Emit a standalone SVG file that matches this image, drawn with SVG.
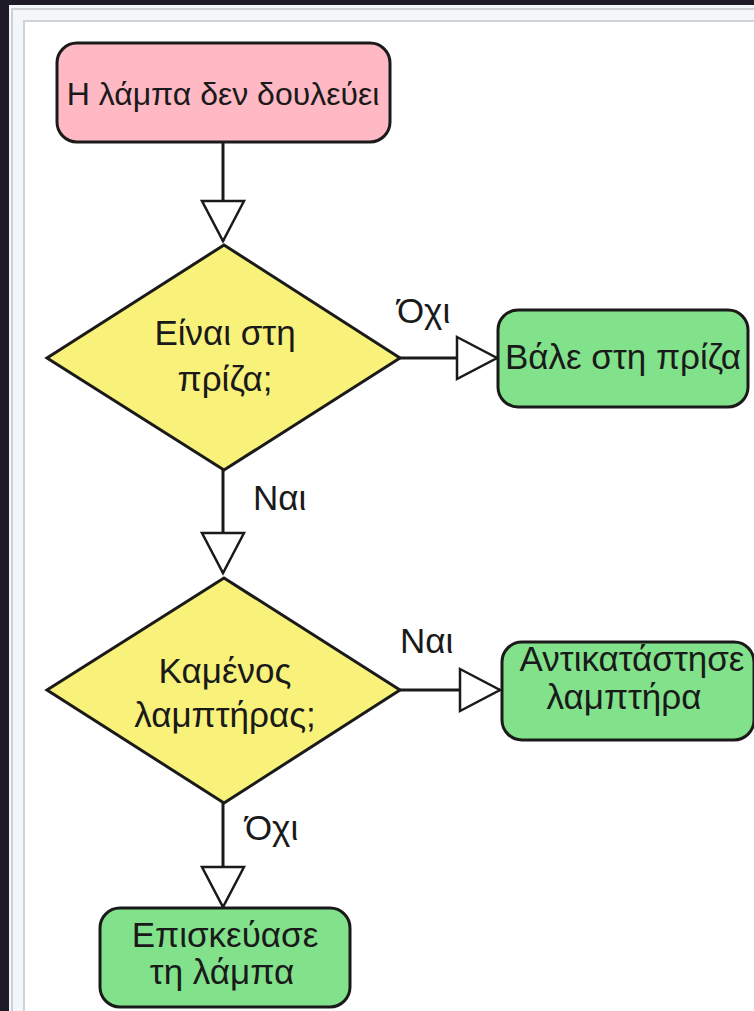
<svg xmlns="http://www.w3.org/2000/svg" width="754" height="1011" viewBox="0 0 754 1011">
  <defs>
    <style>
      .box { stroke: #1a1a1a; stroke-width: 3; }
      .start { fill: #ffb9c4; }
      .end { fill: #82e28b; }
      .dec { fill: #f9f27a; stroke: #1a1a1a; stroke-width: 3; stroke-linejoin: miter; }
      .lbl { font-family: "Liberation Sans", Arial, sans-serif; font-size: 35px; fill: #1a1a1a; }
      .c { text-anchor: middle; }
      .edge { fill: none; stroke: #1a1a1a; stroke-width: 3; marker-end: url(#ah); }
    </style>
    <marker id="ah" viewBox="-3 -3 46 48" refX="40" refY="21" markerWidth="46" markerHeight="48" markerUnits="userSpaceOnUse" orient="auto">
      <path d="M0,0 L40,21 L0,42 Z" fill="#ffffff" stroke="#1a1a1a" stroke-width="2.5"/>
    </marker>
  </defs>

  <rect x="0" y="0" width="754" height="1011" fill="#1e1a28"/>
  <rect x="9" y="5" width="760" height="1020" fill="#f4f7fa"/>
  <rect x="12" y="9" width="760" height="1020" fill="none" stroke="#cfd3d6" stroke-width="2"/>
  <rect x="24" y="21" width="760" height="1020" fill="#ffffff" stroke="#cfd3d6" stroke-width="2"/>

  <g id="connectors">
    <path class="edge" d="M223,142 L223,241"/>
    <path class="edge" d="M400,358 L497,358"/>
    <path class="edge" d="M223,470 L223,573"/>
    <path class="edge" d="M400,690 L500,690"/>
    <path class="edge" d="M223,803 L223,907"/>
    <text class="lbl" x="397" y="323">Όχι</text>
    <text class="lbl" x="253" y="510">Ναι</text>
    <text class="lbl" x="400" y="653">Ναι</text>
    <text class="lbl" x="245" y="840">Όχι</text>
  </g>

  <g id="start">
    <rect class="box start" x="57" y="43" width="333" height="99" rx="20" ry="20"/>
    <text class="lbl c" x="223" y="105" style="font-size:32px">Η λάμπα δεν δουλεύει</text>
  </g>

  <g id="decision1">
    <polygon class="dec" points="224,245 400,358 224,470 47,358"/>
    <text class="lbl c" x="225" y="345">Είναι στη</text>
    <text class="lbl c" x="225" y="391">πρίζα;</text>
  </g>

  <g id="plugin">
    <rect class="box end" x="498" y="310" width="250" height="97" rx="20" ry="20"/>
    <text class="lbl c" x="623" y="369">Βάλε στη πρίζα</text>
  </g>

  <g id="decision2">
    <polygon class="dec" points="224,578 400,690 224,803 47,690"/>
    <text class="lbl c" x="225" y="683">Καμένος</text>
    <text class="lbl c" x="225" y="727">λαμπτήρας;</text>
  </g>

  <g id="replace">
    <rect class="box end" x="502" y="642" width="252" height="98" rx="20" ry="20"/>
    <text class="lbl c" x="632" y="671">Αντικατάστησε</text>
    <text class="lbl c" x="624" y="709">λαμπτήρα</text>
  </g>

  <g id="repair">
    <rect class="box end" x="100" y="908" width="250" height="99" rx="20" ry="20"/>
    <text class="lbl c" x="225" y="947">Επισκεύασε</text>
    <text class="lbl c" x="222" y="984">τη λάμπα</text>
  </g>
</svg>
